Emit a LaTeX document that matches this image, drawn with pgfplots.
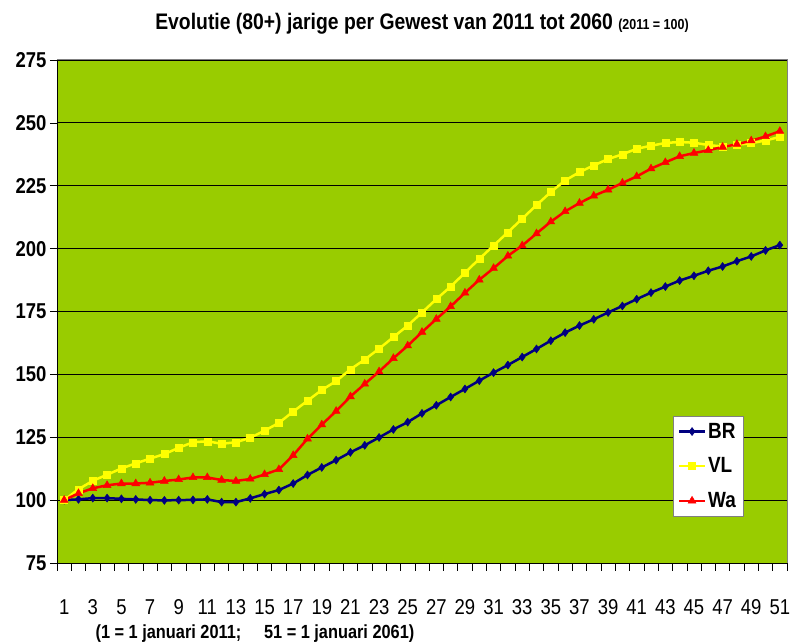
\documentclass[border=0pt]{standalone}
\usepackage{fontspec}
\setmainfont{Liberation Sans}[FakeStretch=0.86]
\usepackage{pgfplots}
\pgfplotsset{compat=1.18}
\definecolor{bg}{HTML}{99CC00}
\definecolor{brc}{HTML}{000080}
\definecolor{vlc}{HTML}{FFFF00}
\definecolor{wac}{HTML}{FF0000}
\begin{document}
\begin{tikzpicture}
\useasboundingbox (-57pt,-81pt) rectangle (733pt,563pt);
\begin{axis}[
  scale only axis, width=730pt, height=503pt,
  at={(0pt,0pt)}, anchor=south west,
  xmin=0.5, xmax=51.5, ymin=75, ymax=275,
  axis background/.style={fill=bg},
  axis x line*=bottom, axis y line*=left,
  axis line style={black, line width=0.8pt},
  xtick={1,3,...,51},
  minor xtick={0.5,1.5,...,51.5},
  ytick={75,100,...,275},
  tick align=outside,
  major tick length=7pt, minor tick length=8pt,
  major x tick style={draw=none},
  minor x tick style={black, line width=0.6pt},
  major y tick style={black, line width=0.6pt},
  ymajorgrids, grid style={black, line width=0.9pt},
  /pgf/number format/assume math mode=true,
  xticklabel style={font=\fontsize{21.5}{25}\selectfont, yshift=-26pt},
  yticklabel style={font=\fontsize{21.5}{25}\selectfont\bfseries},
  title={\fontsize{22.5}{26}\selectfont\bfseries Evolutie (80+) jarige per Gewest van 2011 tot 2060 {\fontsize{14.5}{17}\selectfont (2011 = 100)}},
  title style={at={(axis description cs:0.5,1)}, anchor=center, yshift=30pt},
  xlabel={\fontsize{19}{22}\selectfont\bfseries (1 = 1 januari 2011; \ \ \ \ 51 = 1 januari 2061)},
  xlabel style={at={(axis description cs:0.048,-0.141)}, anchor=west},
  legend style={at={(axis description cs:0.9397,0.2922)}, anchor=north east,
    fill=white, draw=gray, font=\fontsize{22}{26}\selectfont\bfseries,
    row sep=14pt, inner sep=5pt},
  legend cell align=left,
  legend image code/.code={\draw[mark repeat=2,mark phase=2] plot coordinates {(0cm,0cm) (0.45cm,0cm) (0.9cm,0cm)};},
  clip=false,
]
\addplot[brc, line width=2.5pt, mark=diamond*, mark size=4pt, mark options={fill=brc, line width=0.5pt}] coordinates {
(1,100) (2,100.3) (3,100.8) (4,100.8) (5,100.5) (6,100.3) (7,100.0) (8,99.9) (9,100.0) (10,100.1)
(11,100.3) (12,99.2) (13,99.2) (14,100.7) (15,102.4) (16,104.0) (17,106.6) (18,110.0) (19,113.0) (20,115.9)
(21,119.0) (22,121.8) (23,124.9) (24,128.1) (25,131.0) (26,134.5) (27,137.7) (28,141.0) (29,144.2) (30,147.5)
(31,150.7) (32,153.7) (33,156.9) (34,160.1) (35,163.4) (36,166.6) (37,169.4) (38,171.9) (39,174.6) (40,177.2)
(41,179.9) (42,182.5) (43,184.9) (44,187.3) (45,189.2) (46,191.2) (47,192.9) (48,195.0) (49,196.9) (50,199.3) (51,201.4)};
\addlegendentry{BR}
\addplot[vlc, line width=2.5pt, mark=square*, mark size=3.5pt, mark options={fill=vlc, line width=0.5pt}] coordinates {
(1,100) (2,104.3) (3,107.7) (4,110.1) (5,112.6) (6,114.6) (7,116.5) (8,118.3) (9,120.8) (10,123.0)
(11,123.4) (12,122.4) (13,123.0) (14,124.8) (15,127.6) (16,130.7) (17,135.2) (18,139.5) (19,143.8) (20,147.3)
(21,152.0) (22,155.9) (23,160.2) (24,164.8) (25,169.4) (26,174.6) (27,179.9) (28,184.9) (29,190.4) (30,195.9)
(31,201.2) (32,206.5) (33,211.9) (34,217.3) (35,222.5) (36,227.1) (37,230.4) (38,233.1) (39,235.6) (40,237.5)
(41,239.7) (42,240.9) (43,242.0) (44,242.4) (45,242.1) (46,241.2) (47,240.6) (48,241.3) (49,241.9) (50,243.0) (51,244.4)};
\addlegendentry{VL}
\addplot[wac, line width=2.5pt, mark=triangle*, mark size=4.5pt, mark options={fill=wac, line width=0.5pt}] coordinates {
(1,100) (2,102.7) (3,104.7) (4,105.9) (5,106.6) (6,106.6) (7,106.9) (8,107.6) (9,108.2) (10,109.0)
(11,109.0) (12,108.0) (13,107.6) (14,108.4) (15,110.2) (16,112.2) (17,117.8) (18,124.4) (19,130.0) (20,135.4)
(21,141.2) (22,146.2) (23,151.1) (24,156.4) (25,161.4) (26,166.8) (27,172.0) (28,177.0) (29,182.4) (30,187.6)
(31,192.2) (32,197.1) (33,201.2) (34,206.0) (35,210.7) (36,214.8) (37,218.1) (38,221.0) (39,223.4) (40,226.1)
(41,228.7) (42,231.8) (43,234.3) (44,236.7) (45,238.0) (46,239.1) (47,240.4) (48,241.5) (49,242.9) (50,244.6) (51,246.7)};
\addlegendentry{Wa}
\draw[gray, line width=1pt] (rel axis cs:0,1) -- (rel axis cs:1,1) -- (rel axis cs:1,0);
\end{axis}
\end{tikzpicture}
\end{document}
